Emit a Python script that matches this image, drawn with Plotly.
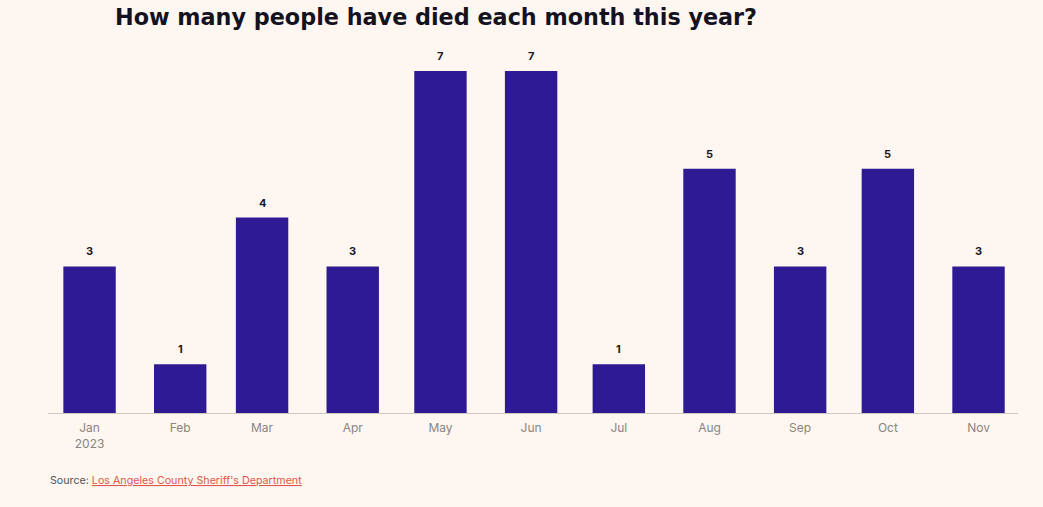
import plotly.graph_objects as go

months = ["2023-01-01", "2023-02-01", "2023-03-01", "2023-04-01", "2023-05-01", "2023-06-01",
          "2023-07-01", "2023-08-01", "2023-09-01", "2023-10-01", "2023-11-01"]
month_labels = ["Jan<br>2023", "Feb", "Mar", "Apr", "May", "Jun", "Jul", "Aug", "Sep", "Oct", "Nov"]
deaths = [3, 1, 4, 3, 7, 7, 1, 5, 3, 5, 3]

BG = "#FEF6F0"
BAR = "#2E1A93"

fig = go.Figure()
fig.add_trace(go.Bar(
    x=months, y=deaths, marker=dict(color=BAR, line=dict(width=0)),
    hoverinfo="x+y", showlegend=False,
))

for m, d in zip(months, deaths):
    fig.add_annotation(x=m, y=d, text=f"<b>{d}</b>", showarrow=False,
                       yanchor="bottom", yshift=6,
                       font=dict(family="Inter", size=11, color="#1A1726"))

fig.add_annotation(
    xref="paper", yref="paper", x=0, y=0, xanchor="left", yanchor="top",
    yshift=-59, showarrow=False,
    text="Source: <span style='color:#E0564A'><u>Los Angeles County Sheriff's Department</u></span>",
    font=dict(family="Inter", size=10.7, color="#55525A"),
)

fig.update_layout(
    width=1043, height=507,
    margin=dict(l=48, r=25, t=46, b=94),
    paper_bgcolor=BG, plot_bgcolor=BG,
    bargap=0.36,
    title=dict(text="<b>How many people have died each month this year?</b>",
               x=115 / 1043, xanchor="left", y=0.966, yanchor="middle",
               font=dict(family="DejaVu Sans", size=22.3, color="#15121F")),
    xaxis=dict(type="date", range=["2022-12-17 19:00", "2023-11-14 12:00"],
               tickmode="array", tickvals=months, ticktext=month_labels,
               showgrid=False, zeroline=False, ticklabelstandoff=4,
               showline=True, linecolor="#CFC6BD", linewidth=1, ticks="",
               tickfont=dict(family="Inter", size=12, color="#8A8580")),
    yaxis=dict(range=[0, 7.51], visible=False, showgrid=False, zeroline=False),
    font=dict(family="Inter"),
)

fig.write_html("out.html", config={"displayModeBar": False},
               post_script="document.body.style.margin='0';document.body.style.background='" + BG + "';")
